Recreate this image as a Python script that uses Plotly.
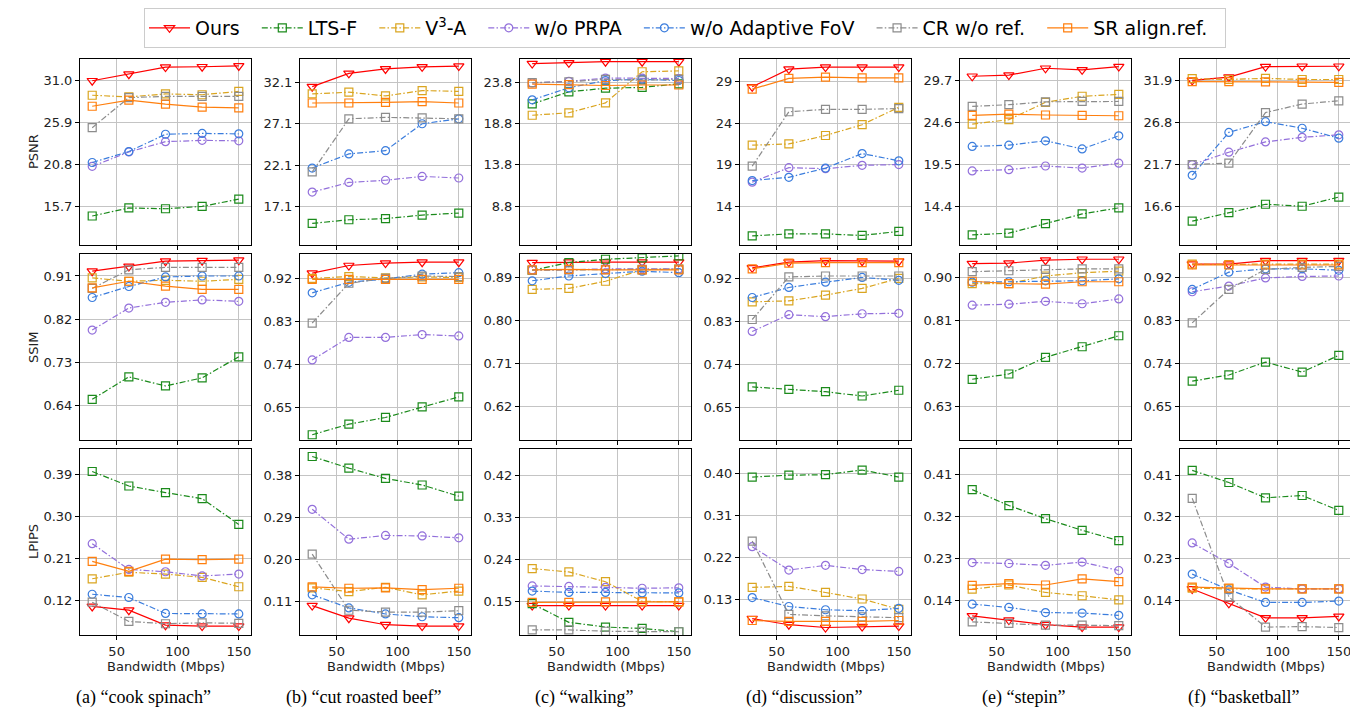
import plotly.graph_objects as go
from plotly.subplots import make_subplots

# ---------------- data ----------------
BANDWIDTH = [30, 60, 90, 120, 150]
METHODS = ["Ours", "LTS-F", "V<sup>3</sup>-A", "w/o PRPA", "w/o Adaptive FoV", "CR w/o ref.", "SR align.ref."]
SCENES = ["(a) “cook spinach”", "(b) “cut roasted beef”", "(c) “walking”",
          "(d) “discussion”", "(e) “stepin”", "(f) “basketball”"]
METRICS = ["PSNR", "SSIM", "LPIPS"]

# each list: rows in METHODS order, values at BANDWIDTH
PSNR_A = [[31.0, 31.8, 32.66, 32.7, 32.8], [14.57, 15.55, 15.45, 15.74, 16.62], [29.24, 29.04, 29.4, 29.3, 29.7],
          [20.6, 22.35, 23.6, 23.76, 23.7], [21.07, 22.4, 24.5, 24.6, 24.55], [25.3, 28.95, 29.1, 29.1, 29.1],
          [27.9, 28.65, 28.16, 27.8, 27.7]]
SSIM_A = [[0.920, 0.930, 0.941, 0.942, 0.943], [0.652, 0.699, 0.680, 0.697, 0.741], [0.906, 0.899, 0.901, 0.899, 0.903],
          [0.797, 0.843, 0.855, 0.860, 0.857], [0.865, 0.888, 0.908, 0.910, 0.910], [0.884, 0.923, 0.928, 0.928, 0.928],
          [0.885, 0.899, 0.889, 0.882, 0.882]]
LPIPS_A = [[0.108, 0.100, 0.068, 0.066, 0.066], [0.396, 0.365, 0.351, 0.338, 0.283], [0.167, 0.181, 0.177, 0.170, 0.150],
           [0.242, 0.187, 0.182, 0.173, 0.177], [0.134, 0.127, 0.093, 0.092, 0.092], [0.117, 0.076, 0.071, 0.073, 0.072],
           [0.204, 0.183, 0.209, 0.208, 0.209]]

PSNR_B = [[31.57, 33.17, 33.7, 33.95, 34.04], [15.1, 15.54, 15.68, 16.1, 16.35], [30.7, 30.9, 30.45, 31.1, 31.0],
          [18.87, 20.03, 20.3, 20.76, 20.57], [21.77, 23.47, 23.86, 27.1, 27.7], [21.3, 27.7, 27.87, 27.8, 27.7],
          [29.6, 29.6, 29.67, 29.77, 29.6]]
SSIM_B = [[0.931, 0.947, 0.952, 0.954, 0.954], [0.594, 0.616, 0.630, 0.652, 0.673], [0.920, 0.924, 0.921, 0.923, 0.922],
          [0.750, 0.797, 0.797, 0.803, 0.800], [0.890, 0.912, 0.919, 0.929, 0.932], [0.827, 0.910, 0.920, 0.925, 0.924],
          [0.918, 0.918, 0.918, 0.918, 0.918]]
LPIPS_B = [[0.101, 0.074, 0.060, 0.057, 0.057], [0.420, 0.395, 0.373, 0.359, 0.335], [0.139, 0.131, 0.140, 0.124, 0.132],
           [0.307, 0.243, 0.251, 0.250, 0.246], [0.124, 0.096, 0.083, 0.077, 0.075], [0.211, 0.091, 0.087, 0.087, 0.090],
           [0.141, 0.138, 0.139, 0.135, 0.138]]

PSNR_C = [[26.04, 26.14, 26.28, 26.28, 26.28], [21.17, 22.63, 23.07, 23.17, 23.6], [19.8, 20.1, 21.3, 25.06, 25.16],
          [23.7, 23.9, 24.3, 24.3, 24.24], [21.66, 23.12, 24.0, 24.14, 24.0], [23.75, 23.85, 24.14, 24.04, 24.14],
          [23.56, 23.5, 23.4, 23.46, 23.46]]
SSIM_C = [[0.921, 0.922, 0.922, 0.922, 0.922], [0.905, 0.921, 0.928, 0.931, 0.935], [0.865, 0.867, 0.882, 0.906, 0.908],
          [0.906, 0.906, 0.908, 0.908, 0.908], [0.883, 0.893, 0.898, 0.903, 0.900], [0.905, 0.906, 0.907, 0.907, 0.907],
          [0.906, 0.907, 0.906, 0.906, 0.906]]
LPIPS_C = [[0.141, 0.141, 0.141, 0.141, 0.141], [0.145, 0.105, 0.095, 0.092, 0.085], [0.220, 0.213, 0.192, 0.150, 0.149],
           [0.183, 0.182, 0.180, 0.178, 0.179], [0.172, 0.169, 0.169, 0.168, 0.168], [0.089, 0.089, 0.086, 0.086, 0.085],
           [0.148, 0.148, 0.149, 0.149, 0.149]]

PSNR_D = [[28.37, 30.5, 30.75, 30.75, 30.75], [10.4, 10.64, 10.64, 10.45, 10.94], [21.33, 21.48, 22.5, 23.8, 25.9],
          [16.87, 18.62, 18.5, 18.9, 19.0], [17.07, 17.46, 18.57, 20.32, 19.45], [18.8, 25.36, 25.65, 25.65, 25.75],
          [28.08, 29.39, 29.53, 29.44, 29.44]]
SSIM_D = [[0.942, 0.954, 0.957, 0.956, 0.956], [0.693, 0.688, 0.683, 0.674, 0.686], [0.871, 0.873, 0.885, 0.899, 0.920],
          [0.809, 0.844, 0.840, 0.846, 0.847], [0.880, 0.901, 0.912, 0.922, 0.916], [0.834, 0.923, 0.925, 0.925, 0.925],
          [0.940, 0.952, 0.953, 0.953, 0.953]]
LPIPS_D = [[0.089, 0.076, 0.070, 0.072, 0.073], [0.392, 0.396, 0.397, 0.407, 0.392], [0.156, 0.158, 0.145, 0.131, 0.109],
           [0.243, 0.193, 0.203, 0.194, 0.190], [0.134, 0.115, 0.108, 0.106, 0.111], [0.255, 0.098, 0.095, 0.093, 0.091],
           [0.085, 0.083, 0.083, 0.083, 0.085]]

PSNR_E = [[30.19, 30.33, 31.16, 30.97, 31.36], [11.0, 11.2, 12.36, 13.53, 14.26], [24.4, 24.94, 27.04, 27.77, 28.0],
          [18.74, 18.89, 19.33, 19.08, 19.67], [21.7, 21.85, 22.38, 21.4, 22.98], [26.55, 26.75, 27.1, 27.14, 27.14],
          [25.46, 25.6, 25.5, 25.46, 25.41]]
SSIM_E = [[0.929, 0.930, 0.936, 0.938, 0.938], [0.687, 0.698, 0.733, 0.755, 0.778], [0.887, 0.887, 0.903, 0.910, 0.913],
          [0.842, 0.844, 0.850, 0.845, 0.855], [0.890, 0.891, 0.893, 0.893, 0.897], [0.912, 0.914, 0.917, 0.918, 0.918],
          [0.892, 0.887, 0.886, 0.891, 0.891]]
LPIPS_E = [[0.107, 0.098, 0.088, 0.083, 0.083], [0.377, 0.343, 0.315, 0.290, 0.268], [0.164, 0.173, 0.157, 0.150, 0.141],
           [0.221, 0.219, 0.215, 0.222, 0.204], [0.132, 0.125, 0.114, 0.113, 0.108], [0.094, 0.091, 0.087, 0.087, 0.086],
           [0.172, 0.176, 0.173, 0.186, 0.180]]

PSNR_F = [[31.9, 32.29, 33.56, 33.6, 33.6], [14.85, 15.9, 16.9, 16.66, 17.77], [32.1, 32.0, 32.14, 32.0, 32.0],
          [21.7, 23.2, 24.45, 25.0, 25.3], [20.4, 25.6, 26.9, 26.1, 24.9], [21.7, 21.87, 28.0, 29.03, 29.42],
          [31.75, 31.75, 31.7, 31.66, 31.66]]
SSIM_F = [[0.948, 0.948, 0.955, 0.955, 0.955], [0.703, 0.716, 0.743, 0.722, 0.757], [0.948, 0.947, 0.948, 0.948, 0.948],
          [0.890, 0.902, 0.919, 0.922, 0.923], [0.895, 0.931, 0.938, 0.938, 0.935], [0.825, 0.895, 0.937, 0.941, 0.943],
          [0.946, 0.946, 0.946, 0.946, 0.946]]
LPIPS_F = [[0.165, 0.134, 0.103, 0.103, 0.106], [0.420, 0.394, 0.361, 0.366, 0.334], [0.167, 0.165, 0.165, 0.165, 0.165],
           [0.264, 0.220, 0.169, 0.165, 0.165], [0.197, 0.163, 0.136, 0.136, 0.139], [0.360, 0.148, 0.083, 0.084, 0.082],
           [0.169, 0.167, 0.165, 0.165, 0.165]]

# y tick labels per scene
PSNR_TICKS = [["31.0", "25.9", "20.8", "15.7"], ["32.1", "27.1", "22.1", "17.1"], ["23.8", "18.8", "13.8", "8.8"],
              ["29", "24", "19", "14"], ["29.7", "24.6", "19.5", "14.4"], ["31.9", "26.8", "21.7", "16.6"]]
SSIM_TICKS = [["0.91", "0.82", "0.73", "0.64"], ["0.92", "0.83", "0.74", "0.65"], ["0.89", "0.80", "0.71", "0.62"],
              ["0.92", "0.83", "0.74", "0.65"], ["0.90", "0.81", "0.72", "0.63"], ["0.92", "0.83", "0.74", "0.65"]]
LPIPS_TICKS = [["0.39", "0.30", "0.21", "0.12"], ["0.38", "0.29", "0.20", "0.11"], ["0.42", "0.33", "0.24", "0.15"],
               ["0.40", "0.31", "0.22", "0.13"], ["0.41", "0.32", "0.23", "0.14"], ["0.41", "0.32", "0.23", "0.14"]]
X_TICKS = [50, 100, 150]

# ---------------- layout / style ----------------
W, H = 1358, 708
PANELS = [[PSNR_A, PSNR_B, PSNR_C, PSNR_D, PSNR_E, PSNR_F],
          [SSIM_A, SSIM_B, SSIM_C, SSIM_D, SSIM_E, SSIM_F],
          [LPIPS_A, LPIPS_B, LPIPS_C, LPIPS_D, LPIPS_E, LPIPS_F]]
TICKS = [PSNR_TICKS, SSIM_TICKS, LPIPS_TICKS]
Y_RANGES = [
    [[11.05, 33.64], [12.5, 34.9], [4.12, 26.6], [9.3, 31.72], [9.77, 32.28], [11.97, 34.48]],
    [[0.567, 0.956], [0.583, 0.971], [0.550, 0.939], [0.582, 0.971], [0.560, 0.949], [0.580, 0.969]],
    [[0.047, 0.444], [0.038, 0.436], [0.078, 0.476], [0.054, 0.452], [0.066, 0.464], [0.066, 0.466]],
]
X_RANGE = [20, 160]

DD = "6px,2.2px,1.5px,2.2px"
STYLES = [
    dict(color="#ff0000", dash="solid", symbol="triangle-down-open", size=9),
    dict(color="#1b8a1b", dash=DD, symbol="square-open", size=8),
    dict(color="#daa520", dash=DD, symbol="square-open", size=8),
    dict(color="#9370db", dash=DD, symbol="circle-open", size=8),
    dict(color="#3b7ddd", dash=DD, symbol="circle-open", size=8),
    dict(color="#8c8c8c", dash=DD, symbol="square-open", size=8),
    dict(color="#ff7f0e", dash="solid", symbol="square-open", size=8),
]

COL_LEFT = [72, 292, 512, 732, 952, 1172]
COL_W = 171
ROW_TOP = [51, 246, 441]
ROW_H = 186
LEGEND_PAD = "\u00a0\u00a0"

fig = make_subplots(rows=3, cols=6)

for r in range(3):
    for c in range(6):
        data = PANELS[r][c]
        for m, name in enumerate(METHODS):
            st = STYLES[m]
            fig.add_trace(go.Scatter(
                x=BANDWIDTH, y=data[m], name=name + LEGEND_PAD, mode="lines+markers",
                line=dict(color=st["color"], width=1.2, dash=st["dash"]),
                marker=dict(symbol=st["symbol"], size=st["size"], color=st["color"],
                            line=dict(color=st["color"], width=1.2)),
                showlegend=(r == 0 and c == 0), legendgroup=name,
            ), row=r + 1, col=c + 1)
        idx = r * 6 + c + 1
        xk = "xaxis" if idx == 1 else f"xaxis{idx}"
        yk = "yaxis" if idx == 1 else f"yaxis{idx}"
        x0 = COL_LEFT[c] / W
        x1 = (COL_LEFT[c] + COL_W) / W
        y1 = 1 - ROW_TOP[r] / H
        y0 = 1 - (ROW_TOP[r] + ROW_H) / H
        ticktext = TICKS[r][c]
        tickvals = [float(t) for t in ticktext]
        fig.layout[xk].update(
            domain=[x0, x1], range=X_RANGE, tickvals=X_TICKS, ticktext=[str(v) for v in X_TICKS],
            showticklabels=(r == 2), ticks="outside", ticklen=4, tickcolor="black", tickwidth=1,
            showgrid=True, gridcolor="#c4c4c4", gridwidth=1, zeroline=False,
            showline=True, linecolor="black", linewidth=1, mirror=True,
            tickfont=dict(family="DejaVu Sans", size=13, color="#222222"),
        )
        fig.layout[yk].update(
            domain=[y0, y1], range=Y_RANGES[r][c], tickvals=tickvals, ticktext=ticktext,
            ticks="outside", ticklen=4, tickcolor="black", tickwidth=1,
            showgrid=True, gridcolor="#c4c4c4", gridwidth=1, zeroline=False,
            showline=True, linecolor="black", linewidth=1, mirror=True,
            tickfont=dict(family="DejaVu Sans", size=13, color="#222222"),
        )

annotations = []
for r, label in enumerate(METRICS):
    yc = 1 - (ROW_TOP[r] + ROW_H / 2) / H
    annotations.append(dict(x=25 / W, y=yc, xref="paper", yref="paper", text=label, showarrow=False,
                            textangle=-90, font=dict(family="DejaVu Sans", size=13, color="#222222"),
                            xanchor="center", yanchor="middle"))
for c, cap in enumerate(SCENES):
    xc = (COL_LEFT[c] + COL_W / 2) / W
    annotations.append(dict(x=xc, y=1 - 658 / H, xref="paper", yref="paper", text="Bandwidth (Mbps)",
                            showarrow=False, font=dict(family="DejaVu Sans", size=13, color="#222222"),
                            xanchor="center", yanchor="middle"))
    annotations.append(dict(x=(COL_LEFT[c] + COL_W / 2 - 22) / W, y=1 - 689 / H, xref="paper", yref="paper",
                            text=cap, showarrow=False,
                            font=dict(family="Liberation Serif", size=18, color="black"),
                            xanchor="center", yanchor="middle"))

fig.update_layout(
    width=W, height=H, margin=dict(l=0, r=0, t=0, b=0),
    paper_bgcolor="white", plot_bgcolor="white",
    annotations=annotations,
    legend=dict(orientation="h", x=677 / W, xanchor="center", y=1, yanchor="top",
                bordercolor="#cccccc", borderwidth=1, bgcolor="white",
                font=dict(family="DejaVu Sans", size=19, color="black"),
                itemwidth=41, tracegroupgap=0),
)

fig.write_html("out.html")
